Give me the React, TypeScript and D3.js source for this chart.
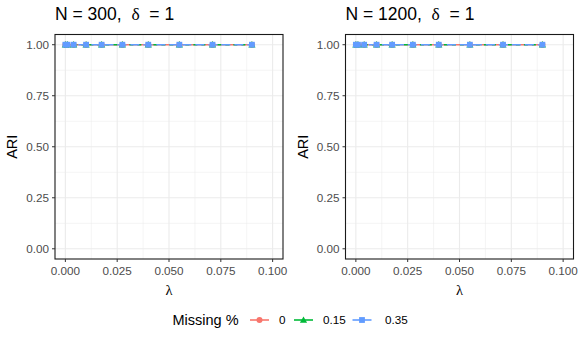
import React from "react";
import * as d3 from "d3";

// λ values along the x axis
const lambdas = [0, 0.001, 0.004, 0.01, 0.0175, 0.0275, 0.04, 0.055, 0.071, 0.09];
const missingLevels = ["0", "0.15", "0.35"];
const ari300 = {
  "0": [1, 1, 1, 1, 1, 1, 1, 1, 1, 1],
  "0.15": [1, 1, 1, 1, 1, 1, 1, 1, 1, 1],
  "0.35": [1, 1, 1, 1, 1, 1, 1, 1, 1, 1],
};
const ari1200 = {
  "0": [1, 1, 1, 1, 1, 1, 1, 1, 1, 1],
  "0.15": [1, 1, 1, 1, 1, 1, 1, 1, 1, 1],
  "0.35": [1, 1, 1, 1, 1, 1, 1, 1, 1, 1],
};
const xTicks = [0, 0.025, 0.05, 0.075, 0.1];
const yTicks = [0, 0.25, 0.5, 0.75, 1];

const W = 581;
const H = 339;
const FONT = "'Liberation Sans', Arial, sans-serif";
const SERIF = "'Liberation Serif', 'DejaVu Serif', serif";
const colors: Record<string, string> = { "0": "#F8766D", "0.15": "#00BA38", "0.35": "#619CFF" };
const dashes: Record<string, string | undefined> = { "0": undefined, "0.15": "4 4", "0.35": "9 4" };

const panels = [
  { n: "300", data: ari300, left: 55 },
  { n: "1200", data: ari1200, left: 345.5 },
];
const PANEL_W = 228;
const TOP = 34.5;
const BOTTOM = 259;

function Marker({ level, x, y }: { level: string; x: number; y: number }) {
  const c = colors[level];
  if (level === "0") return <circle cx={x} cy={y} r={3} fill={c} />;
  if (level === "0.15") {
    const s = 3.6;
    return (
      <path
        d={`M${x},${y - s}L${x + s},${y + s * 0.75}L${x - s},${y + s * 0.75}Z`}
        fill={c}
      />
    );
  }
  return <rect x={x - 2.9} y={y - 2.9} width={5.8} height={5.8} fill={c} />;
}

function Panel({ n, data, left }: { n: string; data: Record<string, number[]>; left: number }) {
  const x = d3.scaleLinear().domain([-0.005, 0.105]).range([left, left + PANEL_W]);
  const y = d3.scaleLinear().domain([-0.05, 1.05]).range([BOTTOM, TOP]);
  const minorX = d3.range(-0.0125, 0.11, 0.025).filter((v) => v > -0.005 && v < 0.105);
  const minorY = [0.125, 0.375, 0.625, 0.875];
  const line = d3
    .line<number>()
    .x((_, i) => x(lambdas[i]))
    .y((d) => y(d));

  return (
    <g>
      <text x={left} y={20} fontSize={17.5} fill="#000" style={{ whiteSpace: "pre" }}>
        {`N = ${n},  `}
        <tspan fontFamily={SERIF}>δ</tspan>
        {"  = 1"}
      </text>
      <rect x={left} y={TOP} width={PANEL_W} height={BOTTOM - TOP} fill="#fff" />
      {minorX.map((v) => (
        <line key={"mx" + v} x1={x(v)} x2={x(v)} y1={TOP} y2={BOTTOM} stroke="#EBEBEB" strokeWidth={0.55} />
      ))}
      {minorY.map((v) => (
        <line key={"my" + v} x1={left} x2={left + PANEL_W} y1={y(v)} y2={y(v)} stroke="#EBEBEB" strokeWidth={0.55} />
      ))}
      {xTicks.map((v) => (
        <line key={"gx" + v} x1={x(v)} x2={x(v)} y1={TOP} y2={BOTTOM} stroke="#EBEBEB" strokeWidth={1.1} />
      ))}
      {yTicks.map((v) => (
        <line key={"gy" + v} x1={left} x2={left + PANEL_W} y1={y(v)} y2={y(v)} stroke="#EBEBEB" strokeWidth={1.1} />
      ))}
      {missingLevels.map((lv) => (
        <path
          key={"l" + lv}
          d={line(data[lv]) || ""}
          fill="none"
          stroke={colors[lv]}
          strokeWidth={1.6}
          strokeDasharray={dashes[lv]}
        />
      ))}
      {missingLevels.map((lv) =>
        data[lv].map((v, i) => <Marker key={lv + "-" + i} level={lv} x={x(lambdas[i])} y={y(v)} />)
      )}
      <rect x={left} y={TOP} width={PANEL_W} height={BOTTOM - TOP} fill="none" stroke="#1a1a1a" strokeWidth={1.1} />
      {xTicks.map((v) => (
        <g key={"tx" + v}>
          <line x1={x(v)} x2={x(v)} y1={BOTTOM} y2={BOTTOM + 3} stroke="#333" strokeWidth={1} />
          <text x={x(v)} y={BOTTOM + 16} textAnchor="middle" fontSize={11.7} fill="#4D4D4D">
            {d3.format(".3f")(v)}
          </text>
        </g>
      ))}
      {yTicks.map((v) => (
        <g key={"ty" + v}>
          <line x1={left - 3} x2={left} y1={y(v)} y2={y(v)} stroke="#333" strokeWidth={1} />
          <text x={left - 6} y={y(v) + 4} textAnchor="end" fontSize={11.7} fill="#4D4D4D">
            {d3.format(".2f")(v)}
          </text>
        </g>
      ))}
      <text x={x(0.05)} y={295} textAnchor="middle" fontSize={14.5} fontFamily={SERIF} fill="#000">
        λ
      </text>
      <text
        transform={`translate(${left - 38},${(TOP + BOTTOM) / 2}) rotate(-90)`}
        textAnchor="middle"
        fontSize={14.5}
        fill="#000"
      >
        ARI
      </text>
    </g>
  );
}

export default function App() {
  const legendItems = [
    { lv: "0", lineX: 250, textX: 279 },
    { lv: "0.15", lineX: 294, textX: 323 },
    { lv: "0.35", lineX: 352.5, textX: 385 },
  ];
  const ly = 320;
  return (
    <svg
      width={W}
      height={H}
      style={{ position: "absolute", left: 0, top: 0, fontFamily: FONT, background: "#fff" }}
    >
      <rect width={W} height={H} fill="#fff" />
      {panels.map((p) => (
        <Panel key={p.n} n={p.n} data={p.data} left={p.left} />
      ))}
      <text x={172.5} y={ly + 5} fontSize={14.5} fill="#000">
        Missing %
      </text>
      {legendItems.map((it) => (
        <g key={it.lv}>
          <line
            x1={it.lineX}
            x2={it.lineX + 19}
            y1={ly}
            y2={ly}
            stroke={colors[it.lv]}
            strokeWidth={1.6}
          />
          <Marker level={it.lv} x={it.lineX + 9.5} y={ly} />
          <text x={it.textX} y={ly + 4.2} fontSize={11.7} fill="#000">
            {it.lv}
          </text>
        </g>
      ))}
    </svg>
  );
}
